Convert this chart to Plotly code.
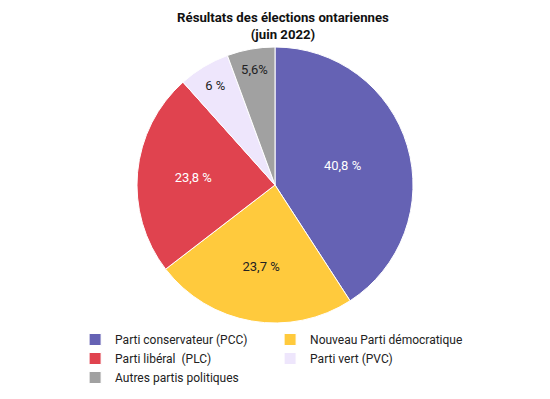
import plotly.graph_objects as go

parties = ["Parti conservateur (PCC)", "Nouveau Parti démocratique", "Parti libéral  (PLC)",
           "Parti vert (PVC)", "Autres partis politiques"]
values = [40.8, 23.7, 23.8, 6.0, 5.6]
text_labels = ["40,8 %", "23,7 %", "23,8 %", "6 %", "5,6%"]
colors = ["#6562B4", "#FFCA3D", "#E0434F", "#EEE6FC", "#A1A1A1"]
text_colors = ["white", "#222222", "white", "#222222", "#222222"]

fig = go.Figure(go.Pie(
    labels=parties,
    values=values,
    text=text_labels,
    textinfo="text",
    textposition="inside",
    insidetextorientation="horizontal",
    insidetextfont=dict(color=text_colors, size=13, family="Roboto"),
    marker=dict(colors=colors, line=dict(color="white", width=1)),
    sort=False,
    direction="clockwise",
    rotation=0,
    hoverinfo="label+percent",
    domain=dict(x=[129/550, 405/550], y=[1-315/399, 1-39/399]),
))

fig.update_layout(
    width=550, height=399,
    margin=dict(l=0, r=0, t=0, b=0, autoexpand=False),
    paper_bgcolor="white",
    title=dict(text="<b>Résultats des élections ontariennes<br>(juin 2022)</b>",
               x=0.5, xanchor="center", y=1-14/399, yanchor="top",
               font=dict(size=13.2, family="Roboto", color="#111111")),
    legend=dict(orientation="h", x=0.122, xanchor="left", y=1-317/399, yanchor="top",
                entrywidth=150, entrywidthmode="pixels",
                font=dict(size=12, family="Roboto", color="#222222"),
                traceorder="normal", itemclick=False),
    showlegend=True,
)

fig.write_html("out.html")
